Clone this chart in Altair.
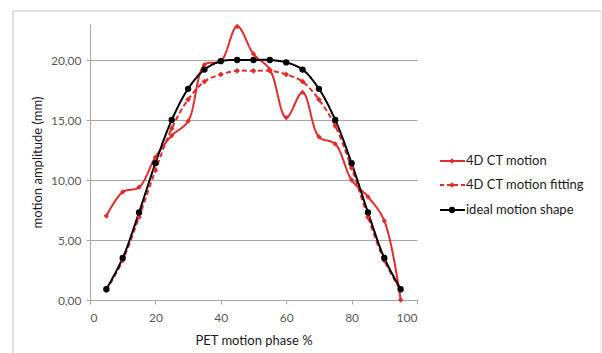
import altair as alt
import pandas as pd

phase = [5, 10, 15, 20, 25, 30, 35, 40, 45, 50, 55, 60, 65, 70, 75, 80, 85, 90, 95]
ct_motion = [7.0, 9.0, 9.4, 11.9, 13.7, 14.9, 19.6, 19.9, 22.8, 20.5, 19.2, 15.2, 17.3, 13.6, 13.0, 10.0, 8.6, 6.6, 0.0]
ct_fit = [0.8, 3.3, 6.9, 10.8, 14.3, 16.7, 18.2, 18.8, 19.1, 19.1, 19.1, 18.8, 18.2, 16.7, 14.5, 11.0, 6.9, 3.3, 0.8]
ideal = [0.9, 3.5, 7.3, 11.4, 15.0, 17.6, 19.2, 19.9, 20.0, 20.0, 20.0, 19.8, 19.2, 17.6, 15.0, 11.4, 7.3, 3.5, 0.9]
series_names = ["4D CT motion", "4D CT motion fitting", "ideal motion shape"]

RED = "#e42a2a"
BLACK = "#000000"
FONT = "Lato"

rows = []
for name, vals in zip(series_names, [ct_motion, ct_fit, ideal]):
    for p, v in zip(phase, vals):
        rows.append({"phase": p, "value": v, "series": name})
df = pd.DataFrame(rows)

xs = alt.X("phase:Q", scale=alt.Scale(domain=[0, 100], nice=False),
           axis=alt.Axis(values=[0, 20, 40, 60, 80, 100], title="PET motion phase %",
                         grid=False, domainColor="#a6a6a6", tickColor="#a6a6a6", tickSize=4,
                         labelColor="#595959", labelFontSize=12, labelPadding=8,
                         titleFontSize=13, titleFontWeight="normal", titleColor="#1a1a1a",
                         titlePadding=11, labelFont=FONT, titleFont=FONT))
ys = alt.Y("value:Q", scale=alt.Scale(domain=[0, 23], nice=False),
           axis=alt.Axis(values=[0, 5, 10, 15, 20], title="motion amplitude (mm)",
                         grid=True, gridColor="#a6a6a6", domainColor="#a6a6a6",
                         tickColor="#a6a6a6", tickSize=4,
                         labelExpr="replace(format(datum.value, '.2f'), '.', ',')",
                         labelColor="#595959", labelFontSize=12, labelPadding=5,
                         titleFontSize=13, titleFontWeight="normal", titleColor="#1a1a1a",
                         titlePadding=6, labelFont=FONT, titleFont=FONT))

color = alt.Color("series:N", scale=alt.Scale(domain=series_names, range=[RED, RED, BLACK]), legend=None)
dash = alt.StrokeDash("series:N", scale=alt.Scale(domain=series_names, range=[[1, 0], [5, 3], [1, 0]]), legend=None)

base = alt.Chart(df)
lines = base.mark_line(interpolate="catmull-rom", strokeWidth=2).encode(x=xs, y=ys, color=color, strokeDash=dash)

ct_pts = base.transform_filter(alt.datum.series == series_names[0]).mark_point(
    shape="diamond", filled=True, size=28, color=RED, opacity=1).encode(x="phase:Q", y="value:Q")
fit_pts = base.transform_filter(alt.datum.series == series_names[1]).mark_point(
    shape="diamond", filled=True, size=32, color=RED, opacity=1).encode(x="phase:Q", y="value:Q")
ideal_pts = base.transform_filter(alt.datum.series == series_names[2]).mark_point(
    shape="circle", filled=True, size=40, color=BLACK, opacity=1).encode(x="phase:Q", y="value:Q")

# legend (manual, pixel-placed decoration)
legend_layers = []
leg_style = [(RED, [1, 0], "diamond", 28), (RED, [4, 3], "diamond", 32), (BLACK, [1, 0], "circle", 40)]
leg_y = [137, 161, 186]
for name, (col, sd, shp, sz), yy in zip(series_names, leg_style, leg_y):
    d = alt.Chart(pd.DataFrame({"label": [name]}))
    legend_layers.append(d.mark_rule(color=col, strokeWidth=2, strokeDash=sd).encode(
        x=alt.value(350), x2=alt.value(375), y=alt.value(yy)))
    legend_layers.append(d.mark_point(shape=shp, filled=True, size=sz, color=col, opacity=1).encode(
        x=alt.value(362), y=alt.value(yy)))
    legend_layers.append(d.mark_text(align="left", baseline="middle", font=FONT, fontSize=13,
                                     color="#1a1a1a").encode(
        x=alt.value(376), y=alt.value(yy), text="label:N"))

# outer frame
frame_d = alt.Chart(pd.DataFrame({"k": [0]}))
frame = [
    frame_d.mark_rule(color="#d9d9d9", strokeWidth=1.5).encode(x=alt.value(-77), x2=alt.value(511), y=alt.value(-13)),
    frame_d.mark_rule(color="#d9d9d9", strokeWidth=1.5).encode(x=alt.value(-77), y=alt.value(-13), y2=alt.value(330)),
    frame_d.mark_rule(color="#e6e6e6", strokeWidth=1).encode(x=alt.value(511), y=alt.value(-13), y2=alt.value(330)),
]

chart = alt.layer(*frame, lines, ct_pts, fit_pts, ideal_pts, *legend_layers).properties(
    width=327, height=276,
    autosize=alt.AutoSizeParams(type="none"),
    padding={"left": 90, "top": 24, "right": 185, "bottom": 53},
    background="white",
).configure_view(stroke=None)

chart.save("out.html", embed_options={"renderer": "svg", "actions": False})
